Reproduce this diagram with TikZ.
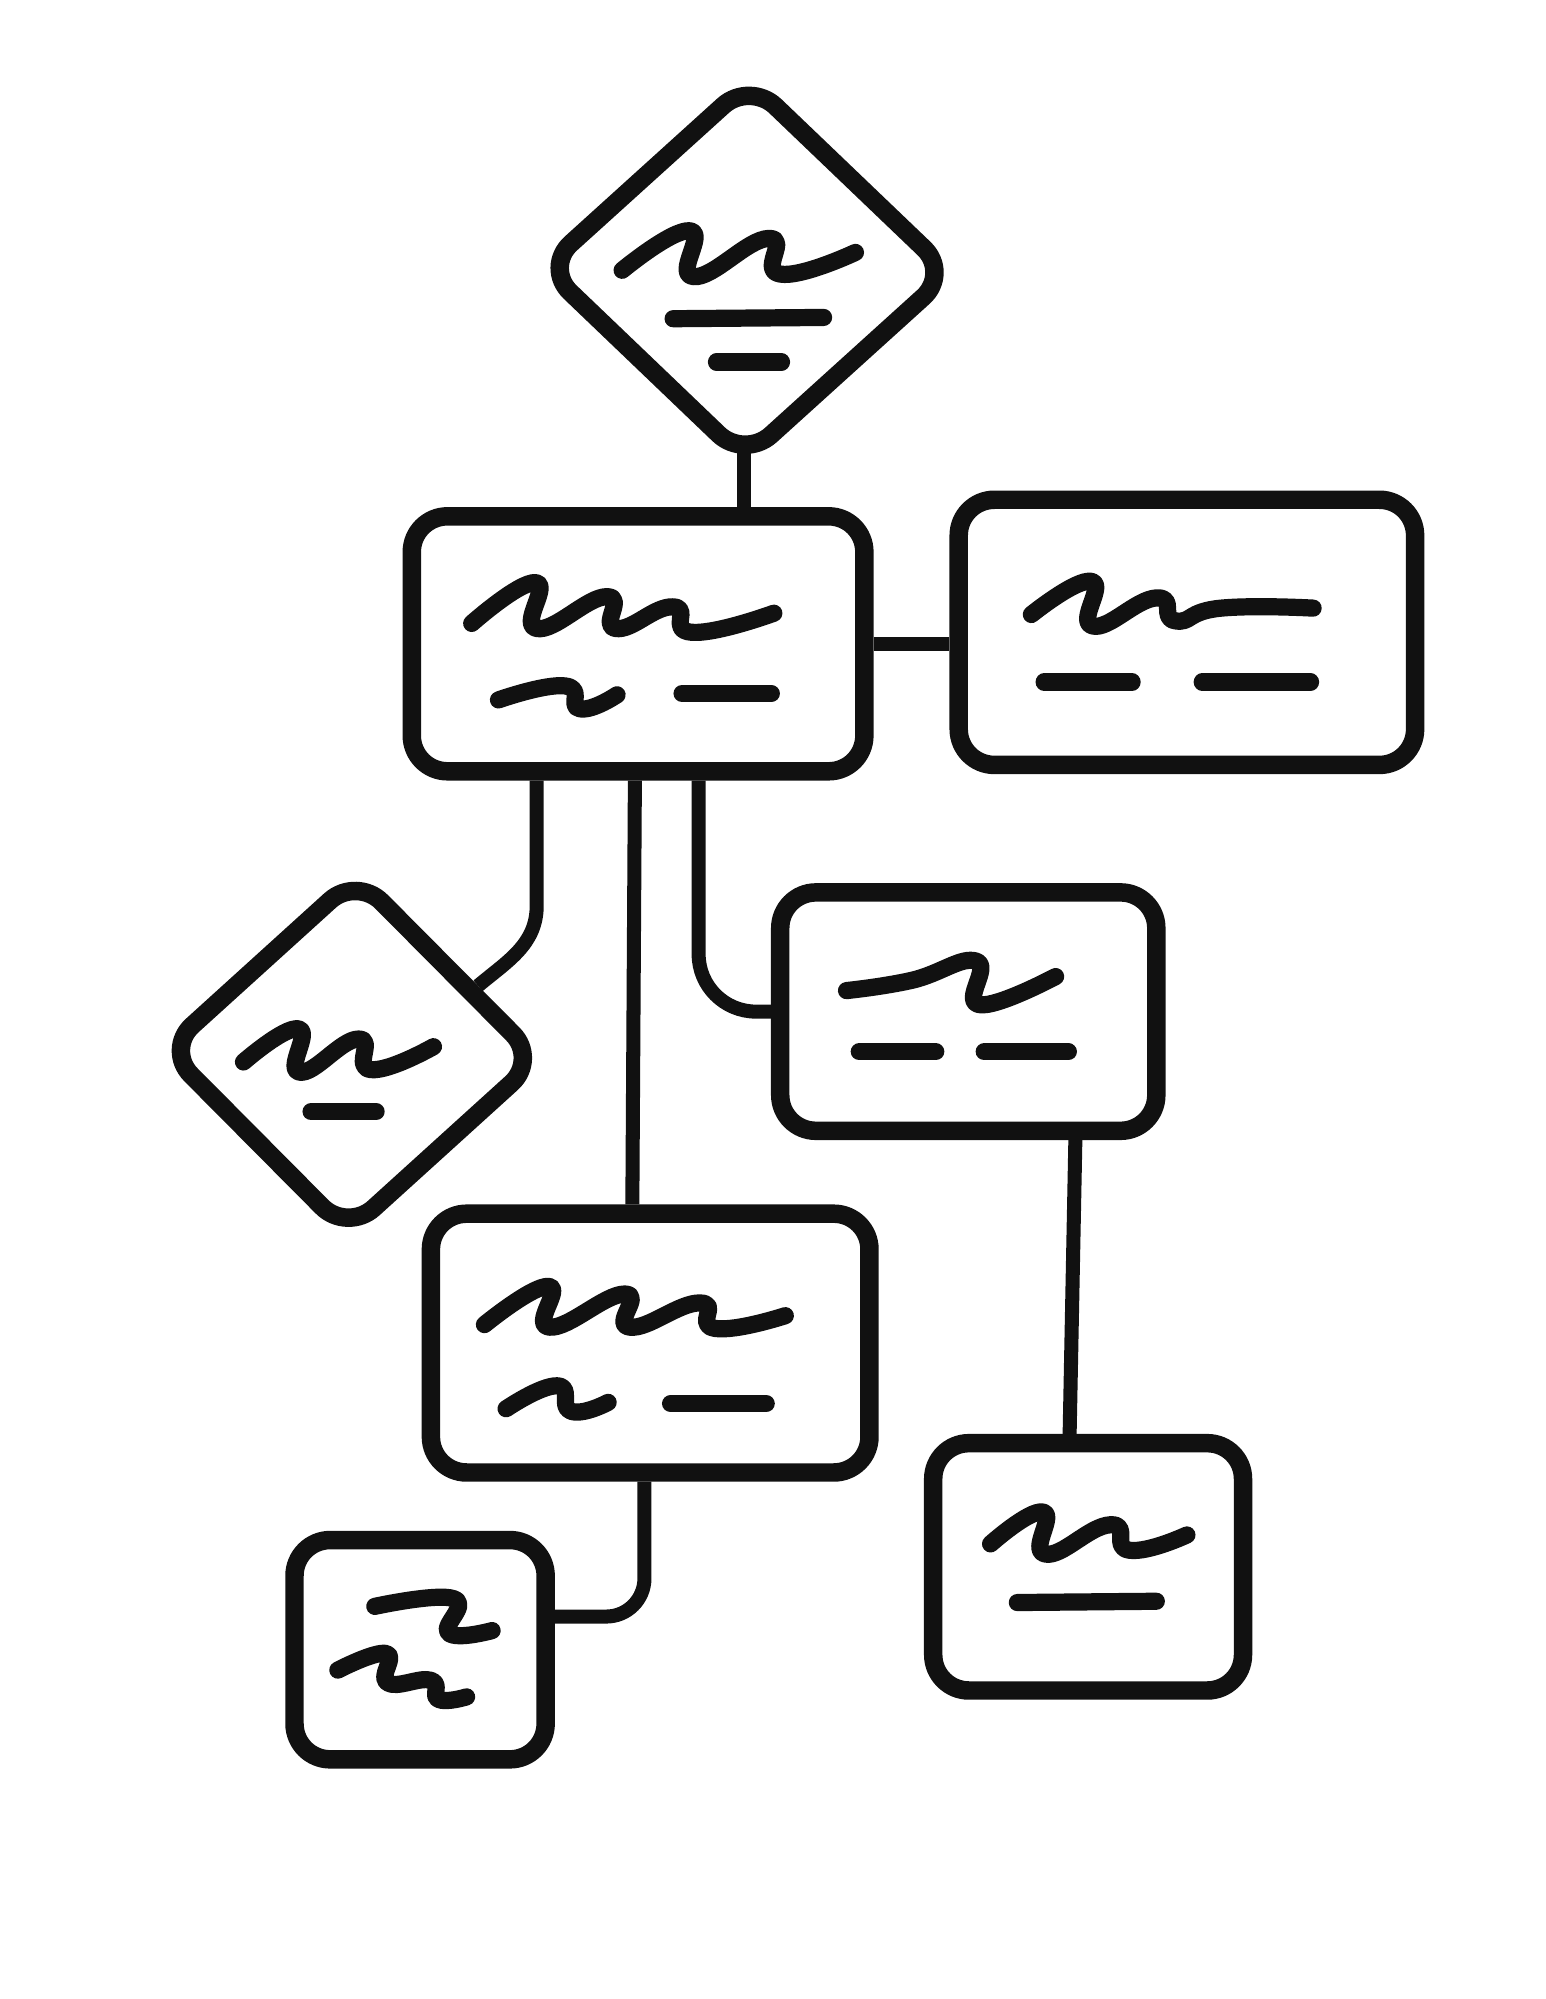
\documentclass[tikz,border=0pt]{standalone}
\usetikzlibrary{shapes.geometric,calc}
\definecolor{ink}{HTML}{111111}
\begin{document}
\begin{tikzpicture}[x=1pt,y=-1pt,
  boxnode/.style={draw=ink, line width=14.5pt, rectangle, rounded corners=28pt, inner sep=0pt},
  dianode/.style={draw=ink, line width=14.5pt, diamond, rounded corners=28pt, inner sep=0pt},
  conn/.style={draw=ink, line width=11pt},
  scrib/.style={draw=ink, line width=13.5pt, line cap=round, line join=round}]
\fill[white] (0,0) rectangle (1212,1568);
\useasboundingbox (0,0) rectangle (1212,1568);

% nodes
\node[dianode, minimum width=324pt, minimum height=302pt, rotate=-0.8] (d1) at (586,212) {};
\node[boxnode, minimum width=355pt, minimum height=200pt] (b1) at (500.5,505) {};
\node[boxnode, minimum width=358pt, minimum height=208pt] (b2) at (931,496) {};
\node[dianode, minimum width=298pt, minimum height=285pt, rotate=-1.5] (d2) at (276,827) {};
\node[boxnode, minimum width=295pt, minimum height=187pt] (b4) at (759.5,793.5) {};
\node[boxnode, minimum width=344pt, minimum height=203pt] (b3) at (510,1053.5) {};
\node[boxnode, minimum width=243pt, minimum height=194pt] (b5) at (853.5,1229) {};
\node[boxnode, minimum width=197pt, minimum height=172pt] (b6) at (329.5,1294) {};

% connectors
\draw[conn] ([yshift=17pt]d1.south) -- (d1.south |- b1.north);
\draw[conn] (b1.east) -- (b1.east -| b2.west);
\draw[conn] ([xshift=-79.5pt]b1.south) -- ++(0,98) to[out=-90,in=40] (d2.30);
\draw[conn] ([xshift=-2.5pt]b1.south) -- ([xshift=-14pt]b3.north);
\draw[conn, rounded corners=45pt] ([xshift=47.5pt]b1.south) |- (b4.west);
\draw[conn] ([xshift=84pt]b4.south) -- ([xshift=-14.5pt]b5.north);
\draw[conn, rounded corners=30pt] ([xshift=-4.5pt]b3.south) |- ([yshift=26pt]b6.east);

% scribbles: top diamond
\draw[scrib] plot[smooth, tension=0.9] coordinates {(488,212) (541,181) (544,217) (603,187) (612,215) (671,198)};
\draw[scrib] (528,250) -- (646,249);
\draw[scrib] (562,284) -- (613,284);

% box 1
\draw[scrib] plot[smooth, tension=0.9] coordinates {(370,489) (420,457) (421,493) (476,468) (483,493) (528,476) (543,496) (607,481)};
\draw[scrib] plot[smooth, tension=0.9] coordinates {(391,549) (443,538) (455,556) (484,545)};
\draw[scrib] (535,544) -- (605,544);

% box 2
\draw[scrib] plot[smooth, tension=0.9] coordinates {(809,482) (856,456) (857,491) (907,469) (922,487) (958,477) (1030,477)};
\draw[scrib] (819,535) -- (888,535);
\draw[scrib] (943,535) -- (1028,535);

% left diamond
\draw[scrib] plot[smooth, tension=0.9] coordinates {(191,833) (234,807) (235,841) (281,815) (291,839) (340,821)};
\draw[scrib] (244,872) -- (295,872);

% box 4
\draw[scrib] plot[smooth, tension=0.8] coordinates {(664,777) (715,769) (766,754) (768,788) (828,766)};
\draw[scrib] (674,825) -- (734,825);
\draw[scrib] (772,825) -- (838,825);

% box 3
\draw[scrib] plot[smooth, tension=0.9] coordinates {(380,1039) (430,1009) (431,1041) (490,1015) (494,1041) (549,1022) (561,1042) (616,1032)};
\draw[scrib] plot[smooth, tension=0.9] coordinates {(397,1105) (437,1087) (448,1107) (477,1100)};
\draw[scrib] (526,1101) -- (601,1101);

% box 5
\draw[scrib] plot[smooth, tension=0.9] coordinates {(777,1211) (818,1186) (820,1219) (871,1196) (886,1216) (931,1204)};
\draw[scrib] (798,1257) -- (907,1256);

% box 6
\draw[scrib] plot[smooth, tension=0.8] coordinates {(294,1260) (356,1254) (352,1281) (386,1279)};
\draw[scrib] plot[smooth, tension=0.8] coordinates {(265,1310) (303,1297) (304,1320) (338,1318) (344,1333) (366,1331)};
\end{tikzpicture}
\end{document}
